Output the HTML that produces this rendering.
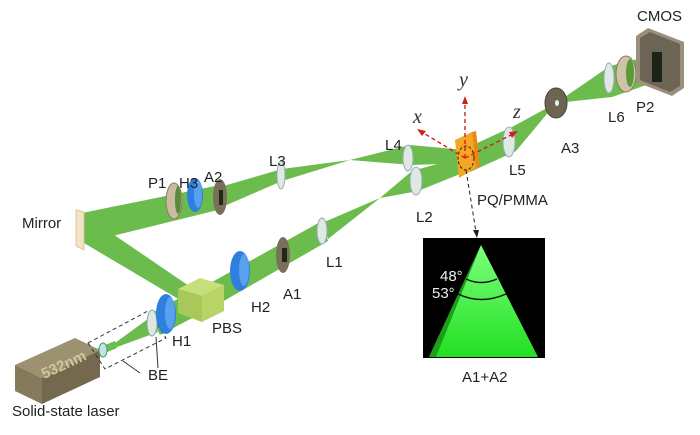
<!DOCTYPE html>
<html><head><meta charset="utf-8"><style>
html,body{margin:0;padding:0;background:#fff;}
svg{display:block;}
text{font-family:"Liberation Sans",sans-serif;font-size:15px;fill:#222;}
.ax{font-family:"Liberation Serif",serif;font-style:italic;font-size:20px;fill:#333;}
</style></head><body>
<svg width="700" height="435" viewBox="0 0 700 435" xmlns="http://www.w3.org/2000/svg">
<defs>
<linearGradient id="cone" x1="0" y1="0" x2="0" y2="1">
<stop offset="0" stop-color="#7dff7d"/><stop offset="1" stop-color="#22e022"/></linearGradient>
</defs>
<g fill="#64b844" opacity="0.95">
<polygon points="98,348 100,355 117,348 115,341"/>
<polygon points="115,343 152,316 158,332 117,347"/>
<polygon points="150,314 205,284 215,306 160,335"/>
<polygon points="195,290 82,213 84,243 180,300"/>
<polygon points="82,213 220,185 222,209 84,243"/>
<polygon points="220,187 282,169 350,160 282,181 222,207"/>
<polygon points="350,160 410,145 465,150 465,163 412,165"/>
<polygon points="205,286 322,221 328,241 215,306"/>
<polygon points="322,223 380,198 328,239"/>
<polygon points="380,198 412,171 470,155 470,170 418,191"/>
<polygon points="462,150 512,127 556,103 516,151 470,172"/>
<polygon points="556,103 610,66 650,56 655,82 612,97"/>
</g>
<!-- laser box -->
<polygon points="15,365 75,338 100,350 42,378" fill="#9c9170"/>
<polygon points="15,365 42,378 42,404 15,391" fill="#857a5c"/>
<polygon points="42,378 100,350 100,377 42,404" fill="#74694e"/>
<text x="38" y="373" transform="rotate(-25 55 362)" style="font-size:15px;font-weight:bold;fill:#cfc79a">532nm</text>
<!-- BE -->
<polygon points="88,343 148,311 166,338 105,369" fill="none" stroke="#333" stroke-dasharray="4,3" stroke-width="1"/>
<line x1="123" y1="361" x2="140" y2="373" stroke="#333"/>
<line x1="156" y1="337" x2="158" y2="368" stroke="#333"/>
<ellipse cx="103" cy="350" rx="4" ry="7" fill="#cde" stroke="#2a6"/>
<ellipse cx="152" cy="323" rx="5" ry="13" fill="#dde8e0" stroke="#8aa"/>
<!-- mirror -->
<polygon points="76,210 84,212 84,250 76,246" fill="#f2e3c4" stroke="#d9c49c"/>
<!-- waveplates -->
<ellipse cx="166" cy="314" rx="10" ry="20" fill="#2f7fe0"/><ellipse cx="170" cy="313" rx="5" ry="16" fill="#5aa0f0"/>
<ellipse cx="240" cy="271" rx="10" ry="20" fill="#2f7fe0"/><ellipse cx="244" cy="270" rx="5" ry="16" fill="#5aa0f0"/>
<ellipse cx="195" cy="195" rx="8" ry="17" fill="#2f7fe0"/><ellipse cx="198" cy="194" rx="4" ry="14" fill="#5aa0f0"/>
<!-- P1 -->
<ellipse cx="174" cy="201" rx="8" ry="18" fill="#c9bca0" stroke="#8a7c5c"/>
<ellipse cx="178" cy="200" rx="3" ry="14" fill="#5a8a3a"/>
<!-- apertures -->
<ellipse cx="220" cy="197" rx="7" ry="18" fill="#7a6f5c"/><rect x="219" y="190" width="4" height="15" fill="#1e2a14"/>
<ellipse cx="283" cy="255" rx="7" ry="18" fill="#7a6f5c"/><rect x="282" y="248" width="5" height="14" fill="#1e2a14"/>
<!-- PBS -->
<polygon points="178,289 200,278 224,285 202,296" fill="#c6df7a"/>
<polygon points="178,289 202,296 202,322 178,313" fill="#a9c85a"/>
<polygon points="202,296 224,285 224,311 202,322" fill="#b8d466"/>
<!-- lenses -->
<g fill="#dfe8e2" stroke="#9ab" stroke-width="1">
<ellipse cx="281" cy="175" rx="4" ry="14"/>
<ellipse cx="322" cy="231" rx="5" ry="13"/>
<ellipse cx="408" cy="158" rx="5" ry="13"/>
<ellipse cx="416" cy="181" rx="6" ry="14"/>
<ellipse cx="509" cy="142" rx="6" ry="15"/>
<ellipse cx="609" cy="78" rx="5" ry="15"/>
</g>
<!-- A3 -->
<ellipse cx="556" cy="103" rx="11" ry="15" fill="#6e6452" stroke="#4a4232"/>
<ellipse cx="557" cy="103" rx="2" ry="3" fill="#eee"/>
<!-- P2 -->
<ellipse cx="626" cy="74" rx="10" ry="18" fill="#cfc3a8" stroke="#8a7c5c"/>
<ellipse cx="630" cy="73" rx="4" ry="14" fill="#5a9a3a"/>
<!-- CMOS -->
<polygon points="636,36 648,28 684,42 684,88 672,96 636,82" fill="#9a907c"/>
<polygon points="640,38 650,32 680,44 680,86 670,92 640,80" fill="#6c6454"/>
<rect x="652" y="52" width="10" height="30" fill="#1b2416"/>
<!-- sample -->
<polygon points="455,140 472,132 476,168 459,178" fill="#f5a623"/>
<polygon points="472,132 476,131 480,167 476,168" fill="#e88a10"/>
<ellipse cx="466" cy="158" rx="8" ry="12" fill="none" stroke="#222" stroke-dasharray="3,2"/>
<!-- axes -->
<g stroke="#d0201a" stroke-width="1.4" stroke-dasharray="4,3" fill="none">
<line x1="465" y1="158" x2="465" y2="100"/>
<line x1="465" y1="158" x2="420" y2="131"/>
<line x1="465" y1="158" x2="515" y2="133"/>
</g>
<polygon points="465,96 462,104 468,104" fill="#d0201a"/>
<polygon points="417,129 426,131 422,136" fill="#d0201a"/>
<polygon points="518,131 509,132 512,138" fill="#d0201a"/>
<text class="ax" x="413" y="123">x</text>
<text class="ax" x="459" y="86">y</text>
<text class="ax" x="513" y="118">z</text>
<line x1="466" y1="170" x2="476" y2="232" stroke="#222" stroke-dasharray="4,3"/>
<polygon points="477,238 473,230 479,230" fill="#222"/>
<!-- inset -->
<rect x="423" y="238" width="122" height="120" fill="#000"/>
<polygon points="481,245 429,357 538,357" fill="url(#cone)"/>
<polygon points="481,245 429,357 436,357" fill="#1aa01a"/>
<path d="M466,279 Q481,286 497,279" fill="none" stroke="#111" stroke-width="1.5"/>
<path d="M458,294 Q481,305 506,294" fill="none" stroke="#111" stroke-width="1.5"/>
<text x="440" y="281" style="fill:#eee;font-size:15px">48°</text>
<text x="432" y="298" style="fill:#eee;font-size:15px">53°</text>
<!-- labels -->
<text x="22" y="228">Mirror</text>
<text x="148" y="188">P1</text>
<text x="179" y="188">H3</text>
<text x="204" y="182">A2</text>
<text x="269" y="166">L3</text>
<text x="385" y="150">L4</text>
<text x="416" y="222">L2</text>
<text x="326" y="267">L1</text>
<text x="283" y="299">A1</text>
<text x="251" y="312">H2</text>
<text x="212" y="333">PBS</text>
<text x="172" y="346">H1</text>
<text x="148" y="380">BE</text>
<text x="12" y="416">Solid-state laser</text>
<text x="477" y="205">PQ/PMMA</text>
<text x="509" y="175">L5</text>
<text x="561" y="153">A3</text>
<text x="608" y="122">L6</text>
<text x="636" y="112">P2</text>
<text x="637" y="21">CMOS</text>
<text x="462" y="382">A1+A2</text>
</svg>
</body></html>
